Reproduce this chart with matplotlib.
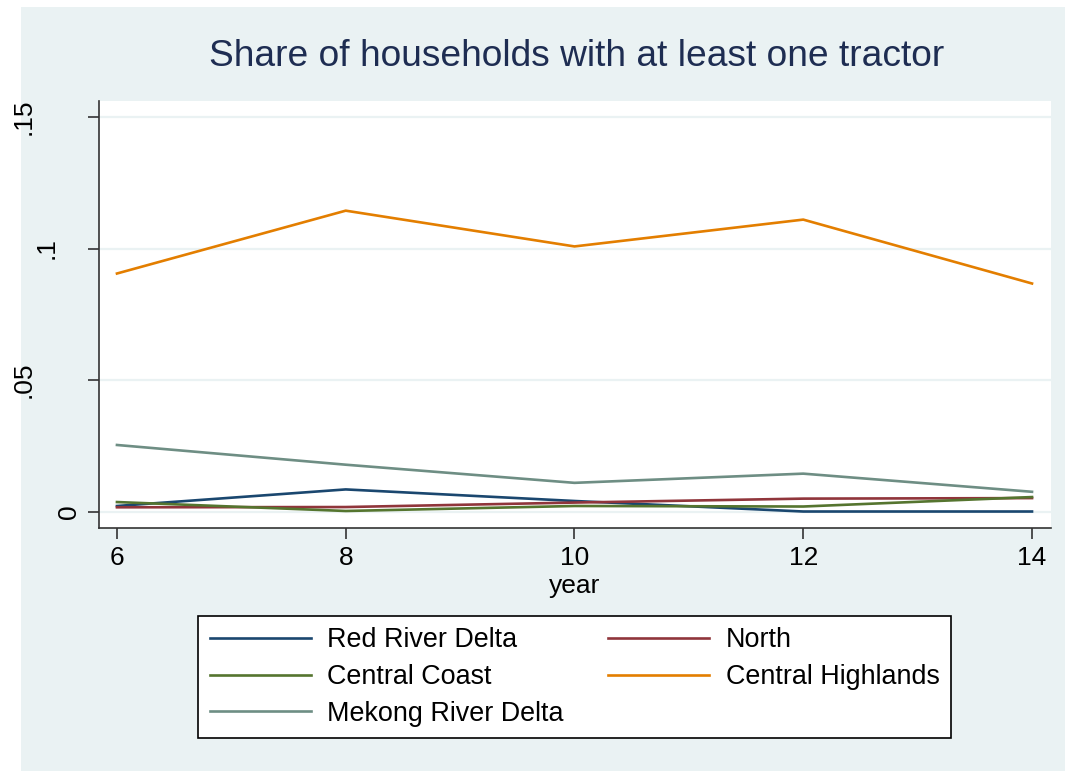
import matplotlib
matplotlib.use("Agg")
import matplotlib.pyplot as plt
from matplotlib.transforms import ScaledTranslation

years = [6, 8, 10, 12, 14]
red_river_delta = [0.0021, 0.0084, 0.0040, 0.0000, 0.0000]
north = [0.0016, 0.0017, 0.0034, 0.0049, 0.0051]
central_coast = [0.0036, 0.0002, 0.0021, 0.0019, 0.0055]
central_highlands = [0.0905, 0.1144, 0.1008, 0.1110, 0.0867]
mekong_river_delta = [0.0253, 0.0178, 0.0109, 0.0144, 0.0075]

series_names = ["Red River Delta", "North", "Central Coast",
                "Central Highlands", "Mekong River Delta"]
series_values = [red_river_delta, north, central_coast,
                 central_highlands, mekong_river_delta]
colors = ["#1A476F", "#90353B", "#55752F", "#E37E00", "#6E8E84"]

yticks = [0, 0.05, 0.1, 0.15]
ytick_labels = ["0", ".05", ".1", ".15"]
xticks = [6, 8, 10, 12, 14]

plt.rcParams['font.family'] = ['Liberation Sans', 'DejaVu Sans']

W, H = 1065, 771
fig = plt.figure(figsize=(W / 100, H / 100), dpi=100)
fig.patch.set_facecolor("white")

bgax = fig.add_axes([21 / W, 0, 1 - 21 / W, 1 - 7 / H], zorder=-1)
bgax.set_facecolor("#EAF2F3")
bgax.set_xticks([])
bgax.set_yticks([])
for s in bgax.spines.values():
    s.set_visible(False)

left, right, top, bottom = 99, 1051, 101, 528
ax = fig.add_axes([left / W, 1 - bottom / H, (right - left) / W, (bottom - top) / H],
                  zorder=2)
ax.set_facecolor("white")

for yv in yticks:
    ax.axhline(yv, color="#EAF2F3", lw=1.6, zorder=1)

handles = []
for name, vals, c in zip(series_names, series_values, colors):
    h, = ax.plot(years, vals, color=c, lw=1.9, label=name, zorder=3)
    handles.append(h)

ax.set_xlim(5.843, 14.166)
ax.set_ylim(-0.00627, 0.1561)
ax.set_xticks(xticks)
ax.set_xticklabels([str(x) for x in xticks])
ax.set_yticks(yticks)
ax.set_yticklabels(ytick_labels, rotation=90, va="center")

for s in ["top", "right"]:
    ax.spines[s].set_visible(False)
for s in ["left", "bottom"]:
    ax.spines[s].set_color("#333333")
    ax.spines[s].set_linewidth(1.2)

ax.tick_params(axis="both", length=8, width=1.2, color="#333333",
               labelsize=19, pad=5)
ax.tick_params(axis="y", pad=5)

# Stata-style offset of rotated y labels depending on their length
for lab in ax.get_yticklabels():
    n = len(lab.get_text())
    dx = -0.225 * (n - 1)
    if dx:
        lab.set_transform(lab.get_transform() +
                          ScaledTranslation(dx, 0, fig.dpi_scale_trans))

ax.set_xlabel("year", fontsize=19, labelpad=3)
fig.text(577 / W, 1 - 57 / H, "Share of households with at least one tractor",
         ha="center", va="center", fontsize=26.7, color="#1E2D52")

order = [0, 2, 4, 1, 3]
leg = fig.legend(handles=[handles[i] for i in order],
                 labels=[series_names[i] for i in order],
                 loc="center", bbox_to_anchor=(574.5 / W, 1 - 677 / H),
                 ncol=2, fontsize=19.4, frameon=True, fancybox=False,
                 framealpha=1, edgecolor="black", handlelength=3.75,
                 handletextpad=0.6, columnspacing=1.67, labelspacing=0.40,
                 borderpad=0.42)
leg.set_zorder(5)
leg.get_frame().set_linewidth(1.2)
leg.get_frame().set_facecolor("white")

fig.savefig("out.png", dpi=100)
